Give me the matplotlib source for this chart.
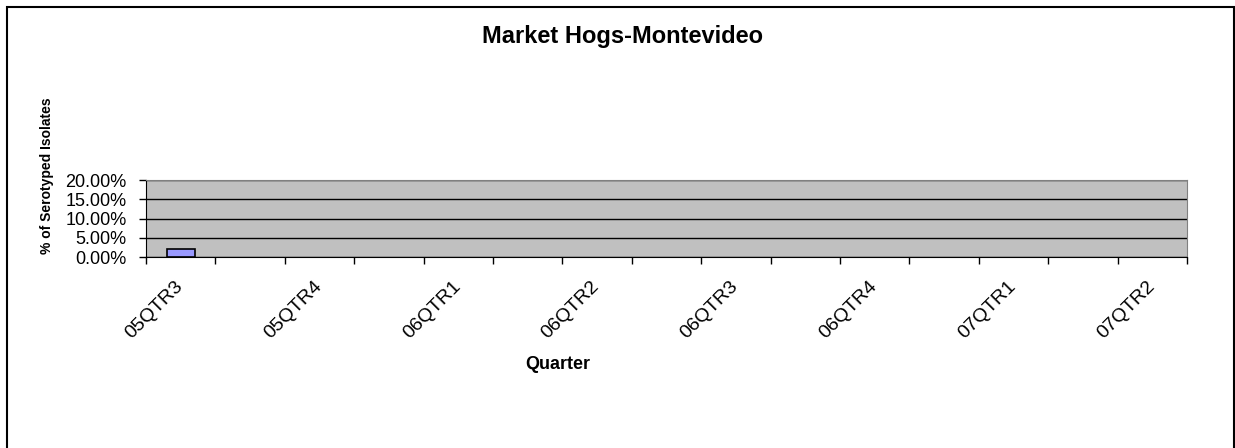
import matplotlib
matplotlib.use("Agg")
import matplotlib.pyplot as plt
from matplotlib.patches import Rectangle
from matplotlib.ticker import FuncFormatter, FixedLocator, NullFormatter

# 15 categories on the axis; Excel only shows every other label
categories = ["05QTR3", "", "05QTR4", "", "06QTR1", "", "06QTR2", "",
              "06QTR3", "", "06QTR4", "", "07QTR1", "", "07QTR2"]
pct_isolates = [0.021, 0, 0, 0, 0, 0, 0, 0, 0, 0, 0, 0, 0, 0, 0]
y_ticks = [0.0, 0.05, 0.10, 0.15, 0.20]

plt.rcParams["font.family"] = ["Liberation Sans", "DejaVu Sans"]

fig = plt.figure(figsize=(12.35, 4.48), dpi=100)
W, H = 1235, 448

# outer chart frame
fig.patches.append(Rectangle((7 / W, -0.05), (1234 - 7) / W, 1.05 - 7 / H,
                             transform=fig.transFigure, fill=False,
                             edgecolor="black", linewidth=1.5))

ax = fig.add_axes([146 / W, 1 - 257 / H, (1187 - 146) / W, (257 - 180) / H])
ax.set_facecolor("#c0c0c0")

n = len(categories)
x = list(range(n))
ax.bar(x, pct_isolates, width=0.4, color="#9999ff", edgecolor="black",
       linewidth=[1.2 if v > 0 else 0 for v in pct_isolates], zorder=3)

ax.set_xlim(-0.5, n - 0.5)
ax.set_ylim(0, 0.2)
ax.set_yticks(y_ticks)
ax.yaxis.set_major_formatter(FuncFormatter(lambda v, p: f"{v * 100:.2f}%"))
ax.yaxis.grid(True, color="black", linewidth=1, zorder=1)
ax.set_axisbelow(True)

# ticks between categories
ax.xaxis.set_major_locator(FixedLocator([i - 0.5 for i in range(n + 1)]))
ax.xaxis.set_major_formatter(NullFormatter())
ax.tick_params(axis="x", which="major", length=5, width=1, direction="out")
ax.tick_params(axis="y", length=5, width=1, labelsize=13, pad=9)

# rotated category labels
for i, c in enumerate(categories):
    if c:
        ax.text(i - 0.09, -0.27, c, transform=ax.get_xaxis_transform(),
                rotation=45, ha="right", va="top", rotation_mode="anchor", fontsize=14)

for s in ["left", "bottom"]:
    ax.spines[s].set_color("black")
for s in ["top", "right"]:
    ax.spines[s].set_color("#808080")

fig.text(622 / W, 1 - 36 / H, "Market Hogs-Montevideo", ha="center", va="center",
         fontsize=17, fontweight="bold")
fig.text(47 / W, 1 - 176 / H, "% of Serotyped Isolates", ha="center", va="center",
         rotation=90, fontsize=10, fontweight="bold")
fig.text(558 / W, 1 - 364 / H, "Quarter", ha="center", va="center",
         fontsize=13, fontweight="bold")

fig.savefig("out.png", dpi=100)
